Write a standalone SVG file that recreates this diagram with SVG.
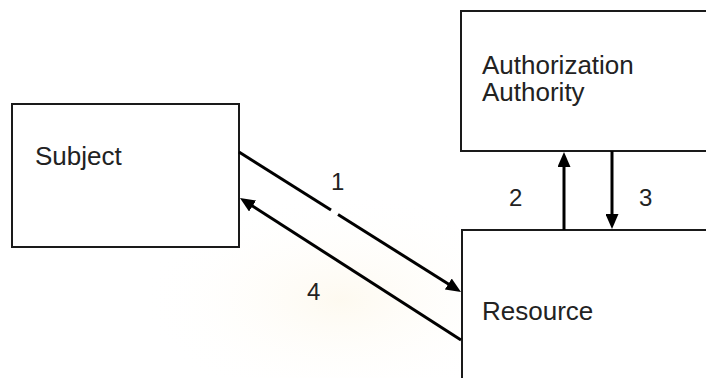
<svg xmlns="http://www.w3.org/2000/svg" width="706" height="378" viewBox="0 0 706 378">
  <defs>
    <style>
      .box { fill: #ffffff; stroke: #1a1a1a; stroke-width: 2; }
      .label { font-family: "Liberation Sans", Arial, sans-serif; font-size: 26px; fill: #222222; }
      .num { font-family: "Liberation Sans", Arial, sans-serif; font-size: 24px; fill: #222222; }
      .flow { fill: none; stroke: #000000; stroke-width: 3; }
      .flow.head { marker-end: url(#arrow); }
    </style>
    <marker id="arrow" viewBox="0 0 15 13" refX="9" refY="6.5" markerWidth="15" markerHeight="13" markerUnits="userSpaceOnUse" orient="auto">
      <path d="M0,0 L15,6.5 L0,13 z" fill="#000000"/>
    </marker>
    <radialGradient id="glow" cx="0.5" cy="0.5" r="0.5">
      <stop offset="0" stop-color="#fdf8ec" stop-opacity="0.8"/>
      <stop offset="1" stop-color="#ffffff" stop-opacity="0"/>
    </radialGradient>
  </defs>

  <rect x="0" y="0" width="706" height="378" fill="#ffffff"/>
  <ellipse cx="340" cy="300" rx="200" ry="110" fill="url(#glow)"/>

  <g id="subject">
    <rect class="box" x="12" y="104" width="227" height="143"/>
    <text class="label" x="35" y="165">Subject</text>
  </g>

  <g id="authorization-authority">
    <rect class="box" x="461" y="11" width="260" height="140"/>
    <text class="label" x="482" y="74">Authorization</text>
    <text class="label" x="482" y="101">Authority</text>
  </g>

  <g id="resource">
    <rect class="box" x="462" y="230" width="260" height="170"/>
    <text class="label" x="482" y="320">Resource</text>
  </g>

  <g id="connectors">
    <!-- 1: subject to resource, broken where the label sits -->
    <line class="flow" x1="239" y1="152" x2="331" y2="210"/>
    <line class="flow head" x1="338" y1="214.4" x2="455.9" y2="288.8"/>
    <!-- 2: resource to authority -->
    <line class="flow head" x1="564" y1="230" x2="564" y2="158"/>
    <!-- 3: authority to resource -->
    <line class="flow head" x1="612" y1="151" x2="612" y2="223"/>
    <!-- 4: resource back to subject -->
    <line class="flow head" x1="461" y1="340" x2="245" y2="201.2"/>

    <text class="num" x="331" y="190">1</text>
    <text class="num" x="509" y="206">2</text>
    <text class="num" x="639" y="206">3</text>
    <text class="num" x="307" y="300">4</text>
  </g>
</svg>
